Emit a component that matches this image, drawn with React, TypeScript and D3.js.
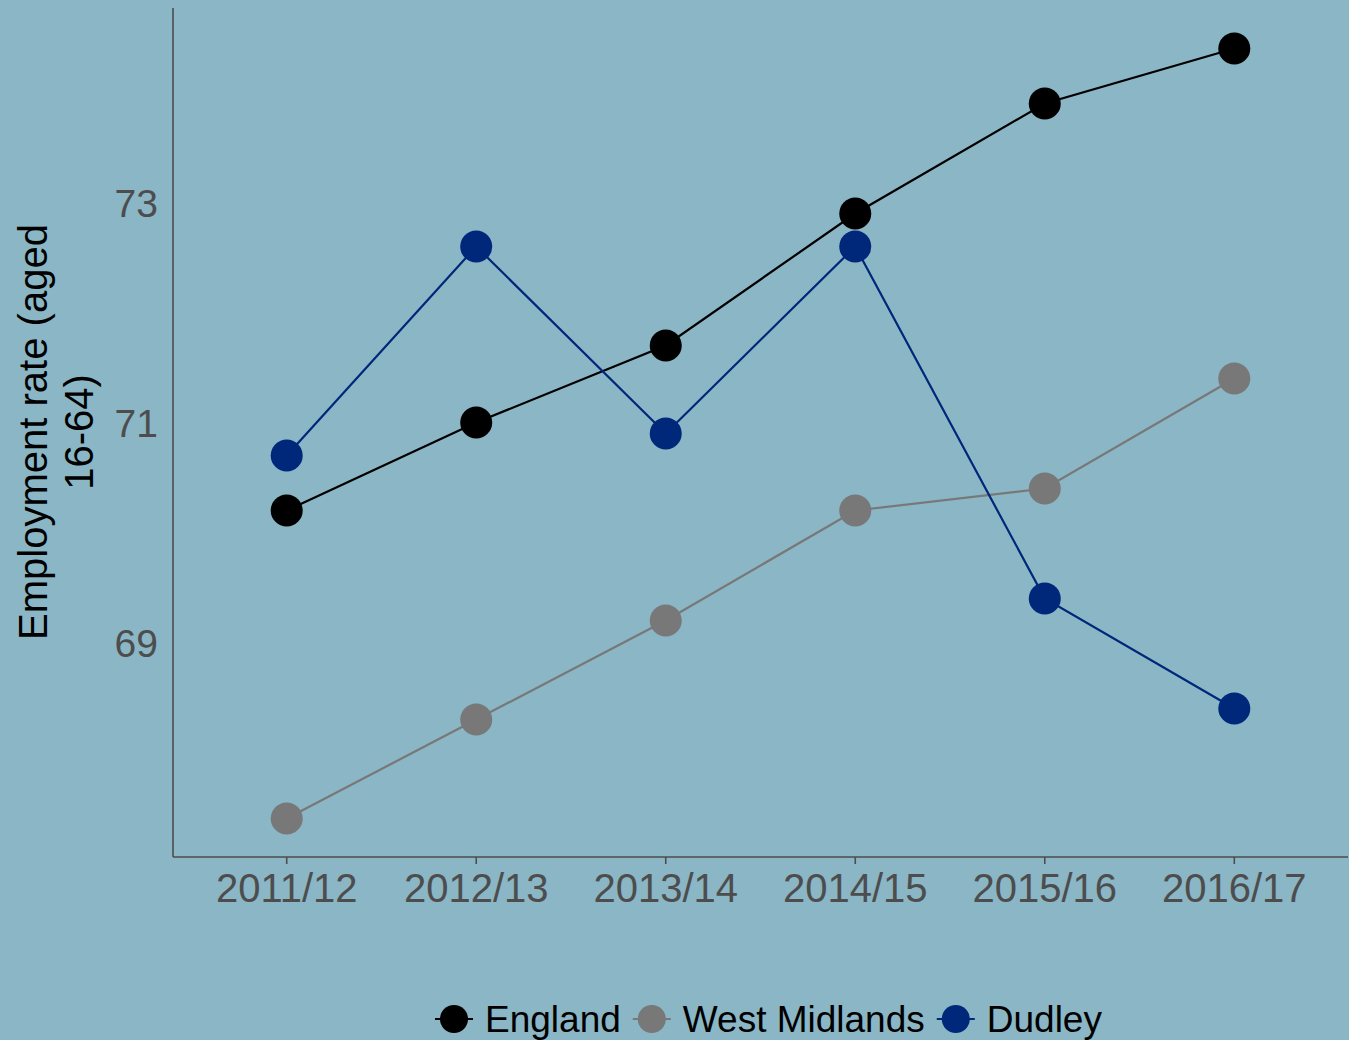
import React, { useEffect, useRef } from "react";
import * as d3 from "d3";

const categories = ["2011/12", "2012/13", "2013/14", "2014/15", "2015/16", "2016/17"];
const englandValues = [70.2, 71.0, 71.7, 72.9, 73.9, 74.4];
const westMidlandsValues = [67.4, 68.3, 69.2, 70.2, 70.4, 71.4];
const dudleyValues = [70.7, 72.6, 70.9, 72.6, 69.4, 68.4];
const seriesNames = ["England", "West Midlands", "Dudley"];
const seriesColors = ["#000000", "#787878", "#00287A"];
const yTicks = [69, 71, 73];

const W = 1349;
const H = 1040;
const FONT = "'Liberation Sans', Arial, sans-serif";

export default function App() {
  const ref = useRef<SVGSVGElement | null>(null);

  useEffect(() => {
    document.body.style.margin = "0";
    const svg = d3.select(ref.current);
    svg.selectAll("*").remove();

    const left = 173, right = 1348, top = 10, bottom = 857;
    const x = d3.scalePoint<string>().domain(categories).range([left, right]).padding(0.6);
    const y = d3.scaleLinear().domain([67.05, 74.75]).range([bottom, top]);

    svg.append("rect").attr("width", W).attr("height", H).attr("fill", "#8AB6C5");

    svg.append("line").attr("x1", left).attr("x2", left).attr("y1", top - 2).attr("y2", bottom)
      .attr("stroke", "#4D4D4D").attr("stroke-width", 1.6);
    svg.append("line").attr("x1", left).attr("x2", right).attr("y1", bottom).attr("y2", bottom)
      .attr("stroke", "#4D4D4D").attr("stroke-width", 1.6);

    const xg = svg.append("g");
    categories.forEach((c) => {
      const px = x(c)!;
      xg.append("line").attr("x1", px).attr("x2", px).attr("y1", bottom).attr("y2", bottom + 7)
        .attr("stroke", "#4D4D4D").attr("stroke-width", 1.6);
      xg.append("text").attr("x", px).attr("y", 902).attr("text-anchor", "middle")
        .attr("font-family", FONT).attr("font-size", 40).attr("fill", "#4D4D4D").text(c);
    });

    yTicks.forEach((t) => {
      svg.append("text").attr("x", 158).attr("y", y(t) + 14).attr("text-anchor", "end")
        .attr("font-family", FONT).attr("font-size", 39).attr("fill", "#4D4D4D").text(String(t));
    });

    const yt = svg.append("text").attr("transform", `translate(0, 432) rotate(-90)`)
      .attr("text-anchor", "middle").attr("font-family", FONT).attr("font-size", 40).attr("fill", "#000");
    yt.append("tspan").attr("x", 0).attr("y", 47).text("Employment rate (aged");
    yt.append("tspan").attr("x", 0).attr("y", 93).text("16-64)");

    const allSeries = [englandValues, westMidlandsValues, dudleyValues];
    const line = d3.line<number>().x((_, i) => x(categories[i])!).y((v) => y(v));

    allSeries.forEach((vals, si) => {
      svg.append("path").attr("d", line(vals)).attr("fill", "none")
        .attr("stroke", seriesColors[si]).attr("stroke-width", 2.2);
    });
    allSeries.forEach((vals, si) => {
      svg.append("g").selectAll("circle").data(vals).enter().append("circle")
        .attr("cx", (_, i) => x(categories[i])!).attr("cy", (v) => y(v)).attr("r", 16)
        .attr("fill", seriesColors[si]);
    });

    const lg = svg.append("g");
    let cx = 435;
    const ly = 1019;
    seriesNames.forEach((name, si) => {
      lg.append("line").attr("x1", cx).attr("x2", cx + 38).attr("y1", ly).attr("y2", ly)
        .attr("stroke", seriesColors[si]).attr("stroke-width", 2.2);
      lg.append("circle").attr("cx", cx + 19).attr("cy", ly).attr("r", 14).attr("fill", seriesColors[si]);
      const t = lg.append("text").attr("x", cx + 50).attr("y", 1032)
        .attr("font-family", FONT).attr("font-size", 37).attr("fill", "#000").text(name);
      const w = (t.node() as SVGTextElement).getComputedTextLength();
      cx = cx + 50 + w + 12;
    });
  }, []);

  return (
    <svg ref={ref} width={W} height={H} style={{ display: "block", position: "absolute", left: 0, top: 0 }} />
  );
}
